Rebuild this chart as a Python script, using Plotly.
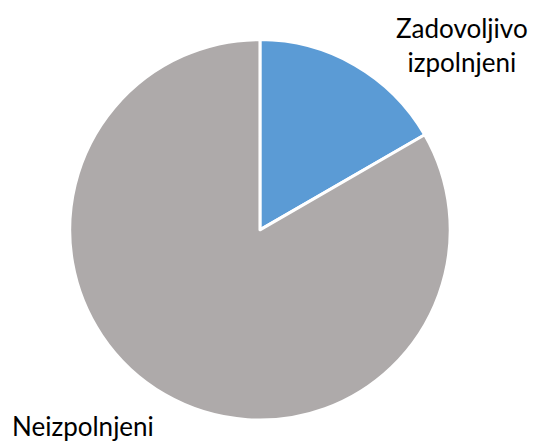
import plotly.graph_objects as go

labels = ['Zadovoljivo izpolnjeni', 'Neizpolnjeni']
values = [1, 5]
colors = ['#5B9BD5', '#AEAAAA']

fig = go.Figure(go.Pie(
    labels=labels, values=values,
    marker=dict(colors=colors, line=dict(color='white', width=3)),
    sort=False, direction='clockwise', rotation=0,
    textinfo='none', hoverinfo='label+percent',
    domain=dict(x=[0.130, 0.840], y=[0.056, 0.911]),
    showlegend=False
))

# Outside labels
fig.add_annotation(x=0.862, y=0.898, xref='paper', yref='paper',
                   xanchor='center', yanchor='middle',
                   text='Zadovoljivo<br>izpolnjeni', showarrow=False,
                   font=dict(family='Lato', size=26, color='black'), align='center')
fig.add_annotation(x=0.155, y=0.042, xref='paper', yref='paper',
                   xanchor='center', yanchor='middle',
                   text='Neizpolnjeni', showarrow=False,
                   font=dict(family='Lato', size=26, color='black'))

fig.update_layout(width=536, height=445, margin=dict(l=0, r=0, t=0, b=0),
                  paper_bgcolor='white', plot_bgcolor='white')
fig.write_html("out.html", config={'displayModeBar': False},
               post_script="document.body.style.margin='0';")
